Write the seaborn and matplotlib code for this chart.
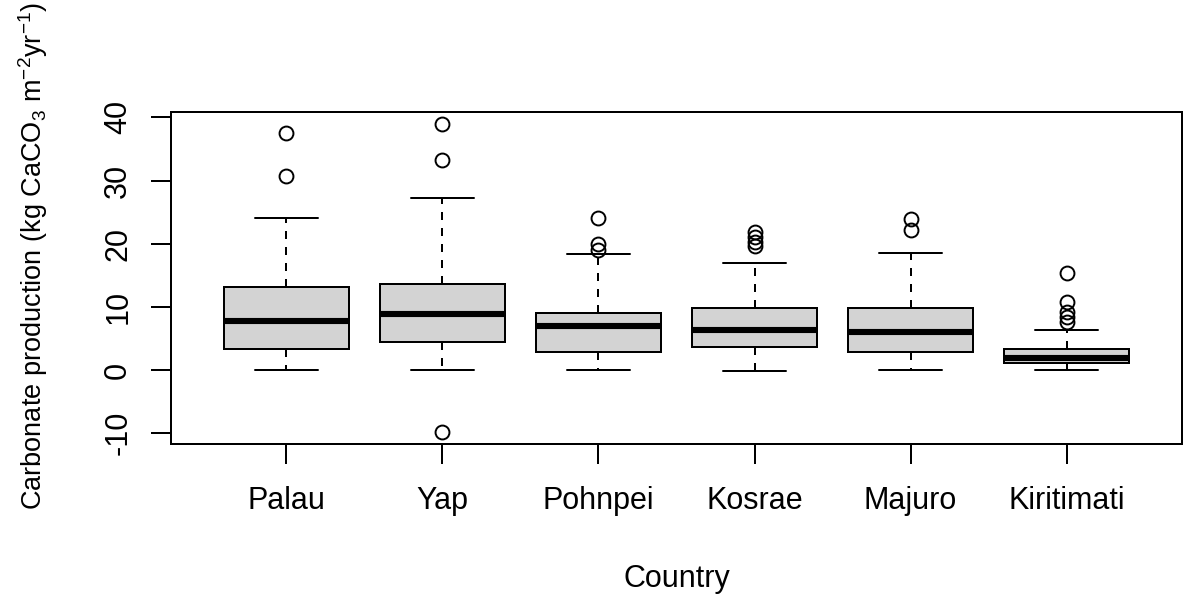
import numpy as np
import pandas as pd
import matplotlib
matplotlib.use("Agg")
import matplotlib.pyplot as plt
import seaborn as sns

# ---- data (five-number summaries + outliers) ----
countries = ["Palau", "Yap", "Pohnpei", "Kosrae", "Majuro", "Kiritimati"]
whisker_low = [0.0, 0.0, 0.0, -0.1, 0.0, 0.0]
q1 = [3.4, 4.4, 2.8, 3.6, 2.8, 1.05]
median = [7.8, 8.8, 6.9, 6.4, 6.0, 1.85]
q3 = [13.2, 13.6, 9.1, 9.9, 9.9, 3.3]
whisker_high = [24.0, 27.3, 18.3, 17.0, 18.6, 6.4]
outliers_palau = [30.7, 37.5]
outliers_yap = [33.3, 38.9, -9.75]
outliers_pohnpei = [24.1, 20.0, 19.0]
outliers_kosrae = [21.9, 21.1, 20.3, 19.7]
outliers_majuro = [23.9, 22.1]
outliers_kiritimati = [15.4, 10.7, 9.2, 8.4, 7.6]
outliers = [outliers_palau, outliers_yap, outliers_pohnpei,
            outliers_kosrae, outliers_majuro, outliers_kiritimati]
y_ticks = [-10, 0, 10, 20, 30, 40]

# long table whose box statistics reproduce the summaries above
BLOCK = 20
rows = []
for i, c in enumerate(countries):
    vals = ([whisker_low[i]] + [q1[i]] * BLOCK + [median[i]] * BLOCK
            + [q3[i]] * BLOCK + [whisker_high[i]] + list(outliers[i]))
    rows += [(c, v) for v in vals]
df = pd.DataFrame(rows, columns=["Country", "value"])

# ---- style ----
sns.set_style("white")
plt.rcParams["font.family"] = ["Liberation Sans", "DejaVu Sans"]
plt.rcParams["mathtext.fontset"] = "custom"
plt.rcParams["mathtext.rm"] = "Liberation Sans"
plt.rcParams["mathtext.it"] = "Liberation Sans:italic"
plt.rcParams["mathtext.bf"] = "Liberation Sans:bold"
plt.rcParams["axes.unicode_minus"] = False
plt.rcParams["text.color"] = "black"
plt.rcParams["axes.labelcolor"] = "black"
plt.rcParams["xtick.color"] = "black"
plt.rcParams["ytick.color"] = "black"

fig = plt.figure(figsize=(11.84, 5.96), dpi=100)
ax = fig.add_axes([171 / 1184, 1 - 444 / 596, (1182 - 171) / 1184, (444 - 112) / 596])

lw = 1.44
sns.boxplot(
    data=df, x="Country", y="value", order=countries, ax=ax,
    color="#D3D3D3", saturation=1, linecolor="black", linewidth=lw,
    width=0.8, whis=1.5,
    whiskerprops=dict(linestyle=(0, (4, 4)), linewidth=lw),
    medianprops=dict(linewidth=4.4, color="black"),
    flierprops=dict(marker="o", markersize=10, markerfacecolor="none",
                    markeredgecolor="black", markeredgewidth=1.4),
)

ax.set_xlim(-0.74, 5.74)
ax.set_ylim(-11.7, 40.85)
ax.set_yticks(y_ticks)
ax.set_yticklabels([str(t) for t in y_ticks])

for s in ax.spines.values():
    s.set_visible(True)
    s.set_color("black")
    s.set_linewidth(lw)

ax.tick_params(axis="both", which="major", length=14.2, width=lw,
               color="black", labelsize=22, labelcolor="black",
               direction="out", bottom=True, left=True)
ax.tick_params(axis="y", labelrotation=90, pad=13)
ax.tick_params(axis="x", pad=16)
for t in ax.get_yticklabels():
    t.set_va("center")

ax.set_xlabel("Country", fontsize=22, color="black")
ax.xaxis.label.set_va("center")
ax.xaxis.set_label_coords(0.5, -(579 - 444) / 332)

ax.set_ylabel(r"Carbonate production (kg CaCO$_3$ m$^{-2}$yr$^{-1}$)",
              fontsize=19.5, color="black")
ax.yaxis.set_label_coords((50 - 171) / 1011, (444 - 256) / 332)

fig.savefig("out.png", dpi=100, facecolor="white")
